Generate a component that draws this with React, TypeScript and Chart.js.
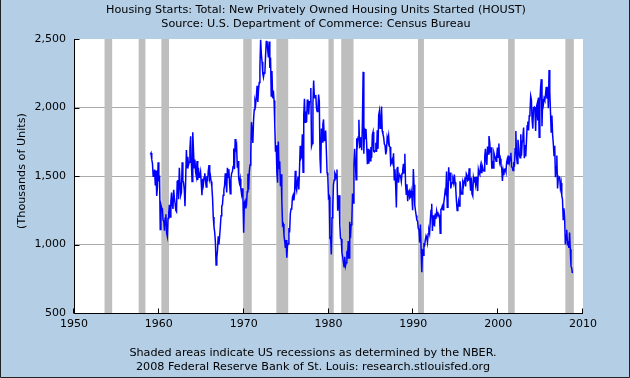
import React, { useEffect, useRef } from 'react';
import { Chart, registerables } from 'chart.js';

Chart.register(...registerables);

// ---- Data (thousands of units, SAAR), monthly Jan..Dec ----
const START_YEAR = 1959;
const h1959 = [1657, 1667, 1620, 1590, 1498, 1503, 1547, 1430, 1540, 1355, 1416, 1601];
const h1960 = [1460, 1503, 1109, 1289, 1266, 1260, 1177, 1170, 1100, 1194, 1221, 1085];
const h1961 = [1060, 1190, 1230, 1290, 1200, 1310, 1380, 1290, 1260, 1400, 1340, 1300];
const h1962 = [1250, 1240, 1460, 1470, 1330, 1560, 1450, 1360, 1380, 1600, 1470, 1450];
const h1963 = [1400, 1280, 1480, 1690, 1560, 1640, 1580, 1600, 1700, 1790, 1600, 1460];
const h1964 = [1820, 1690, 1560, 1620, 1530, 1500, 1610, 1470, 1560, 1490, 1500, 1530];
const h1965 = [1450, 1360, 1480, 1440, 1490, 1520, 1470, 1420, 1500, 1460, 1540, 1580];
const h1966 = [1480, 1500, 1460, 1420, 1340, 1200, 1130, 1090, 1020, 850, 900, 960];
const h1967 = [1060, 1000, 1060, 1130, 1210, 1280, 1290, 1360, 1400, 1430, 1520, 1460];
const h1968 = [1380, 1560, 1490, 1550, 1450, 1370, 1480, 1520, 1530, 1570, 1700, 1550];
const h1969 = [1770, 1700, 1720, 1560, 1610, 1480, 1450, 1480, 1410, 1370, 1410, 1330];
const h1970 = [1085, 1305, 1319, 1264, 1290, 1385, 1517, 1399, 1534, 1580, 1647, 1893];
const h1971 = [1828, 1741, 1910, 1986, 2049, 2026, 2083, 2158, 2041, 2128, 2182, 2295];
const h1972 = [2494, 2390, 2334, 2249, 2221, 2254, 2252, 2382, 2481, 2485, 2421, 2366];
const h1973 = [2481, 2289, 2365, 2084, 2266, 2067, 2123, 2051, 1874, 1677, 1724, 1526];
const h1974 = [1451, 1752, 1555, 1607, 1426, 1513, 1316, 1142, 1150, 1070, 1026, 975];
const h1975 = [1032, 904, 993, 1005, 1121, 1087, 1226, 1260, 1264, 1344, 1360, 1321];
const h1976 = [1367, 1538, 1421, 1395, 1459, 1495, 1401, 1550, 1720, 1629, 1641, 1804];
const h1977 = [1527, 1943, 2063, 1892, 1971, 1893, 2058, 2020, 1949, 2042, 2042, 2142];
const h1978 = [1718, 1738, 2032, 2197, 2075, 2070, 2092, 1996, 1970, 1981, 2094, 2044];
const h1979 = [1630, 1520, 1847, 1748, 1876, 1913, 1760, 1778, 1832, 1681, 1524, 1498];
const h1980 = [1341, 1350, 1047, 1051, 927, 1196, 1269, 1436, 1471, 1523, 1510, 1482];
const h1981 = [1547, 1246, 1306, 1360, 1140, 1045, 1041, 940, 911, 873, 837, 910];
const h1982 = [843, 866, 931, 917, 1025, 902, 1166, 1046, 1144, 1173, 1372, 1303];
const h1983 = [1586, 1699, 1606, 1472, 1776, 1733, 1785, 1910, 1710, 1715, 1785, 1688];
const h1984 = [1897, 2260, 1663, 1851, 1774, 1843, 1732, 1586, 1698, 1590, 1689, 1612];
const h1985 = [1711, 1632, 1800, 1821, 1680, 1676, 1684, 1743, 1676, 1834, 1698, 1942];
const h1986 = [1972, 1848, 1876, 2007, 1828, 1807, 1783, 1733, 1724, 1658, 1686, 1783];
const h1987 = [1760, 1794, 1719, 1712, 1585, 1595, 1617, 1595, 1666, 1473, 1549, 1431];
const h1988 = [1271, 1557, 1568, 1451, 1501, 1507, 1497, 1461, 1518, 1543, 1589, 1523];
const h1989 = [1663, 1439, 1366, 1440, 1316, 1384, 1394, 1340, 1347, 1390, 1353, 1250];
const h1990 = [1551, 1437, 1289, 1248, 1212, 1177, 1171, 1115, 1110, 1014, 1145, 969];
const h1991 = [798, 965, 921, 1001, 996, 1036, 1063, 1049, 1015, 1079, 1103, 1079];
const h1992 = [1176, 1250, 1297, 1099, 1214, 1145, 1139, 1226, 1186, 1244, 1214, 1227];
const h1993 = [1210, 1210, 1083, 1258, 1260, 1280, 1254, 1300, 1343, 1392, 1376, 1533];
const h1994 = [1272, 1337, 1564, 1465, 1526, 1409, 1439, 1450, 1474, 1450, 1511, 1455];
const h1995 = [1407, 1316, 1249, 1267, 1314, 1281, 1461, 1416, 1369, 1369, 1452, 1431];
const h1996 = [1467, 1491, 1424, 1516, 1504, 1467, 1472, 1557, 1475, 1392, 1489, 1370];
const h1997 = [1355, 1486, 1457, 1492, 1442, 1494, 1437, 1390, 1546, 1520, 1510, 1566];
const h1998 = [1525, 1584, 1567, 1540, 1536, 1641, 1698, 1614, 1582, 1715, 1660, 1792];
const h1999 = [1748, 1670, 1710, 1553, 1611, 1559, 1669, 1648, 1635, 1608, 1648, 1708];
const h2000 = [1636, 1737, 1604, 1626, 1575, 1559, 1463, 1541, 1507, 1549, 1551, 1532];
const h2001 = [1600, 1625, 1590, 1649, 1605, 1636, 1670, 1567, 1562, 1540, 1602, 1568];
const h2002 = [1698, 1829, 1642, 1592, 1764, 1717, 1655, 1633, 1804, 1648, 1753, 1788];
const h2003 = [1853, 1629, 1726, 1643, 1751, 1867, 1897, 1833, 1939, 1967, 2083, 2057];
const h2004 = [1911, 1846, 1998, 2003, 1981, 1828, 2002, 2024, 1905, 2072, 1782, 2042];
const h2005 = [2144, 2207, 1864, 2061, 2025, 2068, 2054, 2095, 2151, 2065, 2147, 1994];
const h2006 = [2273, 2119, 1969, 1821, 1942, 1802, 1737, 1650, 1720, 1491, 1570, 1649];
const h2007 = [1409, 1480, 1495, 1490, 1415, 1448, 1354, 1330, 1183, 1264, 1197, 1000];
const h2008 = [1071, 1107, 1005, 1013, 975, 1087, 965, 844, 828, 791];

const yearlyValues = [
  h1959, h1960, h1961, h1962, h1963, h1964, h1965, h1966, h1967, h1968,
  h1969, h1970, h1971, h1972, h1973, h1974, h1975, h1976, h1977, h1978,
  h1979, h1980, h1981, h1982, h1983, h1984, h1985, h1986, h1987, h1988,
  h1989, h1990, h1991, h1992, h1993, h1994, h1995, h1996, h1997, h1998,
  h1999, h2000, h2001, h2002, h2003, h2004, h2005, h2006, h2007, h2008,
];

// NBER recessions (decimal years)
const recessionStarts = [1953.6, 1957.62, 1960.3, 1969.95, 1973.85, 1980.0, 1981.5, 1990.55, 2001.17, 2007.92];
const recessionEnds = [1954.5, 1958.42, 1961.2, 1970.95, 1975.25, 1980.62, 1982.95, 1991.25, 2001.95, 2008.92];

const xTickValues = [1950, 1960, 1970, 1980, 1990, 2000, 2010];
const yTickValues = [500, 1000, 1500, 2000, 2500];

const titleLines = [
  'Housing Starts: Total: New Privately Owned Housing Units Started (HOUST)',
  'Source: U.S. Department of Commerce: Census Bureau',
];
const footerLines = [
  'Shaded areas indicate US recessions as determined by the NBER.',
  '2008 Federal Reserve Bank of St. Louis: research.stlouisfed.org',
];
const yAxisTitle = '(Thousands of Units)';

const BG = '#b4cee6';
const FONT = '"DejaVu Sans", Verdana, sans-serif';

const framePlugin = {
  id: 'fredFrame',
  beforeDraw(chart: any) {
    const { ctx, width, height, chartArea: a } = chart;
    ctx.save();
    ctx.fillStyle = BG;
    ctx.fillRect(0, 0, width, height);
    ctx.fillStyle = '#ffffff';
    ctx.fillRect(a.left, a.top, a.right - a.left, a.bottom - a.top);
    // outer frame
    ctx.strokeStyle = '#222222';
    ctx.lineWidth = 1;
    ctx.beginPath();
    ctx.moveTo(0.5, 0);
    ctx.lineTo(0.5, height - 0.5);
    ctx.lineTo(width - 0.5, height - 0.5);
    ctx.lineTo(width - 0.5, 0);
    ctx.stroke();
    // texts
    ctx.fillStyle = '#000000';
    ctx.font = `11.2px ${FONT}`;
    ctx.textAlign = 'center';
    ctx.textBaseline = 'middle';
    titleLines.forEach((t, i) => ctx.fillText(t, 316, 10 + i * 14));
    footerLines.forEach((t, i) => ctx.fillText(t, 313, 353 + i * 14));
    ctx.translate(22, 171);
    ctx.rotate(-Math.PI / 2);
    ctx.fillText(yAxisTitle, 0, 0);
    ctx.restore();
  },
  beforeDatasetsDraw(chart: any) {
    const { ctx, chartArea: a, scales } = chart;
    const xs = scales.x;
    ctx.save();
    ctx.beginPath();
    ctx.rect(a.left, a.top, a.right - a.left, a.bottom - a.top);
    ctx.clip();
    ctx.fillStyle = '#bebebe';
    recessionStarts.forEach((s, i) => {
      const x1 = xs.getPixelForValue(s);
      const x2 = xs.getPixelForValue(recessionEnds[i]);
      ctx.fillRect(x1, a.top, x2 - x1, a.bottom - a.top);
    });
    ctx.restore();
  },
  afterDatasetsDraw(chart: any) {
    const { ctx, chartArea: a, scales } = chart;
    const xs = scales.x;
    const ys = scales.y;
    ctx.save();
    ctx.strokeStyle = '#000000';
    ctx.lineWidth = 1;
    ctx.beginPath();
    const lx = Math.round(a.left) + 0.5;
    const by = Math.round(a.bottom) + 0.5;
    ctx.moveTo(lx, a.top);
    ctx.lineTo(lx, by);
    ctx.lineTo(a.right, by);
    xTickValues.forEach((v) => {
      const px = Math.round(xs.getPixelForValue(v)) - 0.5;
      ctx.moveTo(px, by);
      ctx.lineTo(px, by - 5);
    });
    yTickValues.forEach((v) => {
      const py = Math.round(ys.getPixelForValue(v)) + 0.5;
      ctx.moveTo(lx, py);
      ctx.lineTo(lx + 5, py);
    });
    ctx.stroke();
    ctx.restore();
  },
};

export default function App() {
  const canvasRef = useRef<HTMLCanvasElement | null>(null);

  useEffect(() => {
    document.body.style.margin = '0';
    const canvas = canvasRef.current;
    if (!canvas) return;
    const points = yearlyValues.flatMap((arr, i) =>
      arr.map((v, m) => ({ x: START_YEAR + i + m / 12, y: v }))
    );
    const tickFont = { family: FONT, size: 11 };
    const chart = new Chart(canvas, {
      type: 'line',
      data: {
        datasets: [
          {
            data: points,
            borderColor: '#0000ff',
            borderWidth: 1.5,
            pointRadius: 0,
            tension: 0,
            fill: false,
          },
        ],
      },
      options: {
        responsive: false,
        animation: false,
        devicePixelRatio: 1,
        layout: { padding: { top: 39, right: 47, bottom: 0, left: 0 } },
        plugins: {
          legend: { display: false },
          tooltip: { enabled: false },
          title: { display: false },
        },
        scales: {
          x: {
            type: 'linear',
            min: 1950,
            max: 2010,
            afterBuildTicks: (s: any) => {
              s.ticks = xTickValues.map((v) => ({ value: v }));
            },
            afterFit: (s: any) => {
              s.height = 65;
            },
            ticks: {
              callback: (v: any) => String(v),
              color: '#000000',
              font: tickFont,
              padding: 5,
              maxRotation: 0,
              autoSkip: false,
            },
            grid: { display: false, drawTicks: false },
            border: { display: false },
          },
          y: {
            type: 'linear',
            min: 500,
            max: 2500,
            afterBuildTicks: (s: any) => {
              s.ticks = yTickValues.map((v) => ({ value: v }));
            },
            afterFit: (s: any) => {
              s.width = 74;
            },
            ticks: {
              callback: (v: any) => Number(v).toLocaleString('en-US'),
              color: '#000000',
              font: tickFont,
              padding: 8,
            },
            grid: {
              drawTicks: false,
              lineWidth: 1,
              color: (c: any) =>
                c.tick && (c.tick.value === 500 || c.tick.value === 2500)
                  ? 'rgba(0,0,0,0)'
                  : '#aaaaaa',
            },
            border: { display: false },
          },
        },
      },
      plugins: [framePlugin],
    });
    return () => chart.destroy();
  }, []);

  return (
    <div style={{ position: 'fixed', left: 0, top: 0, width: 630, height: 378 }}>
      <canvas ref={canvasRef} width={630} height={378} style={{ display: 'block', width: 630, height: 378 }} />
    </div>
  );
}
